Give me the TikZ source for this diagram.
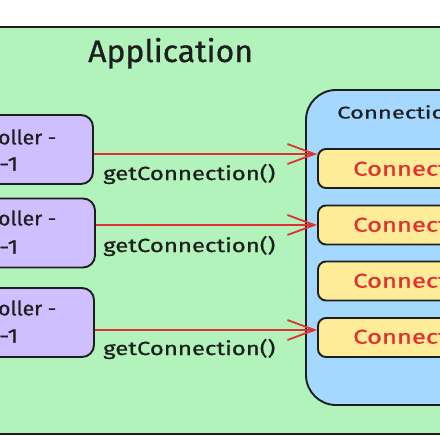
\documentclass[tikz,border=0pt]{standalone}
\usepackage{graphicx}
\usepackage{fontspec}
\setmainfont{Fira Sans}[FakeBold=0.7]
\usetikzlibrary{arrows.meta}
\definecolor{appgreen}{HTML}{B2F2BB}
\definecolor{ctlpurple}{HTML}{D0BFFF}
\definecolor{poolblue}{HTML}{A5D8FF}
\definecolor{connyellow}{HTML}{FFEC99}
\definecolor{inkred}{HTML}{E03131}
\definecolor{ink}{HTML}{1E1E1E}
\newcommand{\widetext}[2]{\scalebox{#1}[1]{#2}}
\tikzset{
  ctlbox/.style={draw=ink, line width=1.9pt, fill=ctlpurple, rounded corners=12pt, minimum width=153pt, minimum height=69pt},
  connbox/.style={draw=ink, line width=1.9pt, fill=connyellow, rounded corners=8pt, minimum width=170pt, minimum height=39pt},
  ctltext/.style={anchor=west, font=\fontsize{20pt}{22pt}\selectfont, text=ink, inner sep=0pt},
  conntext/.style={anchor=west, font=\fontsize{20pt}{22pt}\selectfont, text=inkred, inner sep=0pt},
  calltext/.style={anchor=west, font=\fontsize{19pt}{22pt}\selectfont, text=ink, inner sep=0pt},
  arr/.style={draw=inkred, line width=1.8pt, -{Straight Barb[length=27pt,width=20pt,line width=1.8pt]}}
}
\begin{document}
\begin{tikzpicture}[x=1pt,y=-1pt]
\useasboundingbox (0,0) rectangle (440,440);
\clip (0,0) rectangle (440,440);
\fill[white] (0,0) rectangle (440,440);
% application frame
\node[draw=ink, line width=1.9pt, fill=appgreen, minimum width=470pt, minimum height=407pt, inner sep=0pt] (app) at (220,230.5) {};
\node[anchor=base west, inner sep=0pt, font=\fontsize{31pt}{34pt}\selectfont, text=ink] (apptitle) at (88,62) {\widetext{1.03}{Application}};
% controllers
\node[ctlbox] (c1) at (16.5,149.5) {};
\node[ctlbox] (c2) at (18.5,233) {};
\node[ctlbox] (c3) at (17.5,322.5) {};
\node[ctltext] (c1a) at (-2,137) {\widetext{1.05}{oller -}};
\node[ctltext] (c1b) at (-1,164) {\widetext{1.25}{-1}};
\node[ctltext] (c2a) at (-2,218) {\widetext{1.05}{oller -}};
\node[ctltext] (c2b) at (-1,247) {\widetext{1.25}{-1}};
\node[ctltext] (c3a) at (-2,308) {\widetext{1.05}{oller -}};
\node[ctltext] (c3b) at (-1,336) {\widetext{1.25}{-1}};
% pool
\node[draw=ink, line width=1.9pt, fill=poolblue, rounded corners=30pt, minimum width=200pt, minimum height=315pt, inner sep=0pt] (pool) at (406,247.5) {};
\node[anchor=west, inner sep=0pt, font=\fontsize{17pt}{20pt}\selectfont, text=ink] (pooltitle) at (337,112) {\widetext{1.4}{Connection Pool}};
% connections
\node[connbox] (k1) at (403,168.5) {};
\node[connbox] (k2) at (403,225) {};
\node[connbox] (k3) at (403,281) {};
\node[connbox] (k4) at (403,337.5) {};
\node[conntext] (k1t) at (353,168) {\widetext{1.28}{Connection}};
\node[conntext] (k2t) at (353,224) {\widetext{1.28}{Connection}};
\node[conntext] (k3t) at (353,280) {\widetext{1.28}{Connection}};
\node[conntext] (k4t) at (353,336) {\widetext{1.28}{Connection}};
% arrows
\draw[arr] (c1.east |- 0,154) -- (k1.west |- 0,154);
\draw[arr] (c2.east |- 0,225) -- (k2.west |- 0,225);
\draw[arr] (c3.east |- 0,330) -- (k4.west |- 0,330);
\node[calltext] (l1) at (103,174) {\widetext{1.26}{getConnection()}};
\node[calltext] (l2) at (103,246) {\widetext{1.26}{getConnection()}};
\node[calltext] (l3) at (103,349) {\widetext{1.26}{getConnection()}};
\end{tikzpicture}
\end{document}
